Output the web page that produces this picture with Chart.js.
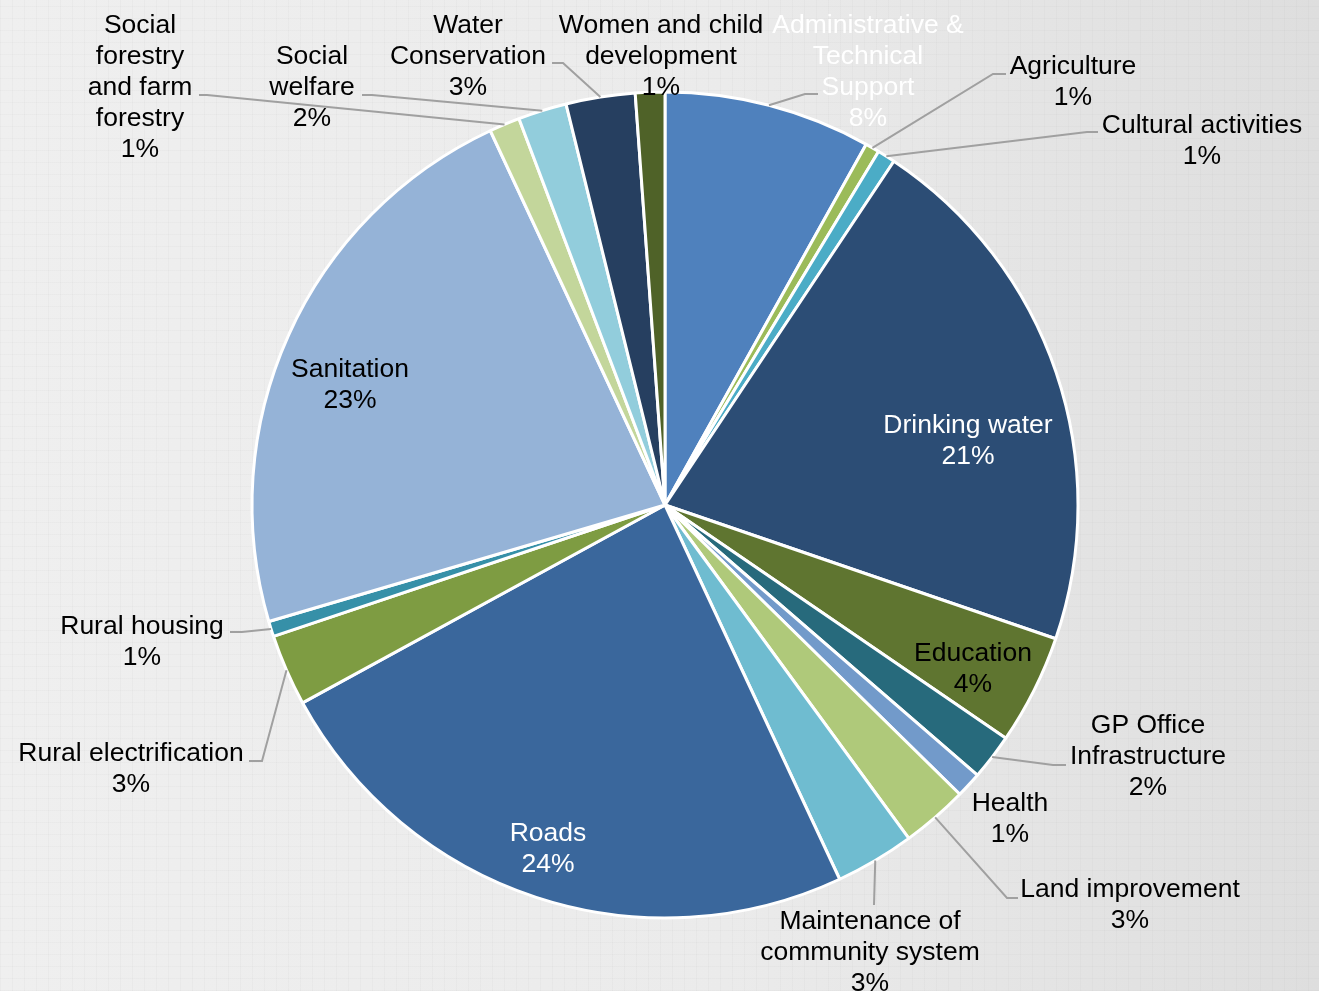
<!DOCTYPE html>
<html>
<head>
<meta charset="utf-8">
<script src="https://cdn.jsdelivr.net/npm/chart.js@4.4.0/dist/chart.umd.min.js"></script>
<style>
    html, body { margin: 0; padding: 0; }
    body {
        width: 1319px; height: 991px; overflow: hidden;
        background-color: #e9e9e9;
        background-image:
            repeating-linear-gradient(0deg, rgba(0,0,0,0.018) 0px, rgba(0,0,0,0.018) 1px, transparent 1px, transparent 12px),
            repeating-linear-gradient(90deg, rgba(0,0,0,0.018) 0px, rgba(0,0,0,0.018) 1px, transparent 1px, transparent 12px),
            linear-gradient(90deg, #efefef 0%, #ebebeb 55%, #dedede 100%);
    }
    #wrap { position: relative; width: 1319px; height: 991px; }
</style>
</head>
<body>
<div id="wrap"><canvas id="pieChart"></canvas></div>
<script>
// Données : part de chaque secteur (%)
const categories = [
    'Administrative & Technical Support', 'Agriculture', 'Cultural activities', 'Drinking water',
    'Education', 'GP Office Infrastructure', 'Health', 'Land improvement',
    'Maintenance of community system', 'Roads', 'Rural electrification', 'Rural housing',
    'Sanitation', 'Social forestry and farm forestry', 'Social welfare', 'Water Conservation',
    'Women and child development'
];
const shares = [8.1, 0.55, 0.7, 20.9, 4.3, 1.8, 1.0, 2.6, 3.1, 24.0, 2.8, 0.6, 22.6, 1.2, 1.9, 2.7, 1.15];

// Texte des étiquettes (retours à la ligne comme dans l'original)
const labelLines = [
    ['Administrative &', 'Technical', 'Support'], ['Agriculture'], ['Cultural activities'], ['Drinking water'],
    ['Education'], ['GP Office', 'Infrastructure'], ['Health'], ['Land improvement'],
    ['Maintenance of', 'community system'], ['Roads'], ['Rural electrification'], ['Rural housing'],
    ['Sanitation'], ['Social', 'forestry', 'and farm', 'forestry'], ['Social', 'welfare'], ['Water', 'Conservation'],
    ['Women and child', 'development']
];

const sliceColors = [
    '#4F81BD', '#9BBB59', '#4BACC6', '#2C4D75', '#5F7530', '#276A7C', '#729ACA', '#AFC97A',
    '#6FBCD0', '#3A679C', '#7E9C42', '#3690A8', '#95B3D7', '#C3D69B', '#92CDDC', '#263F60', '#4F6228'
];
const textColors = [
    '#ffffff', '#000', '#000', '#ffffff', '#000', '#000', '#000', '#000',
    '#000', '#ffffff', '#000', '#000', '#000', '#000', '#000', '#000', '#000'
];

// Position des étiquettes par rapport au centre du camembert (px) + coude de la ligne de rappel
const labelOffsets = [
    [203, -433], [408, -423], [537, -364], [303, -64], [308, 164], [483, 252], [345, 314], [465, 400],
    [205, 448], [-117, 344], [-534, 264], [-523, 137], [-315, -120], [-525, -417], [-353, -417], [-197, -448],
    [-4, -448]
];
const leaderPoints = [
    [[140, -411], [153, -411]], [[328, -431], [341, -431]], [[422, -373], [433, -373]], null,
    null, [[388, 260], [401, 260]], null, [[342, 393], [353, 393]],
    [[209, 400]], null, [[-403, 256], [-416, 256]], [[-423, 127], [-435, 127]],
    null, [[-458, -410], [-466, -410]], [[-293, -410], [-303, -410]], [[-102, -442], [-113, -442]],
    null
];

const total = shares.reduce((a, b) => a + b, 0);

const labelPlugin = {
    id: 'sliceLabels',
    afterDatasetsDraw(chart) {
        const ctx = chart.ctx;
        const meta = chart.getDatasetMeta(0);
        ctx.save();
        // lignes de rappel
        ctx.strokeStyle = '#A0A0A0';
        ctx.lineWidth = 2;
        meta.data.forEach((arc, i) => {
            const pts = leaderPoints[i];
            if (!pts) return;
            const mid = (arc.startAngle + arc.endAngle) / 2;
            ctx.beginPath();
            ctx.moveTo(arc.x + Math.cos(mid) * arc.outerRadius, arc.y + Math.sin(mid) * arc.outerRadius);
            pts.forEach(p => ctx.lineTo(arc.x + p[0], arc.y + p[1]));
            ctx.stroke();
        });
        // textes
        ctx.font = '26.5px "Liberation Sans", Arial, sans-serif';
        ctx.textAlign = 'center';
        ctx.textBaseline = 'middle';
        const lh = 31;
        meta.data.forEach((arc, i) => {
            const pct = Math.round(shares[i] / total * 100) + '%';
            const lines = labelLines[i].concat([pct]);
            const cx = arc.x + labelOffsets[i][0];
            const cy = arc.y + labelOffsets[i][1];
            const top = cy - (lines.length - 1) * lh / 2;
            ctx.fillStyle = textColors[i];
            lines.forEach((t, k) => ctx.fillText(t, cx, top + k * lh));
        });
        ctx.restore();
    }
};

const ctx = document.getElementById('pieChart').getContext('2d');
const pieChart = new Chart(ctx, {
    type: 'pie',
    data: {
        labels: categories,
        datasets: [{
            data: shares,
            backgroundColor: sliceColors,
            borderColor: '#ffffff',
            borderWidth: 3,
            hoverOffset: 0
        }]
    },
    options: {
        responsive: true,
        maintainAspectRatio: false,
        animation: false,
        radius: 413,
        layout: { padding: { left: 11, right: 0, top: 19, bottom: 0 } },
        plugins: {
            legend: { display: false },
            tooltip: { enabled: false }
        }
    },
    plugins: [labelPlugin]
});
</script>
</body>
</html>
